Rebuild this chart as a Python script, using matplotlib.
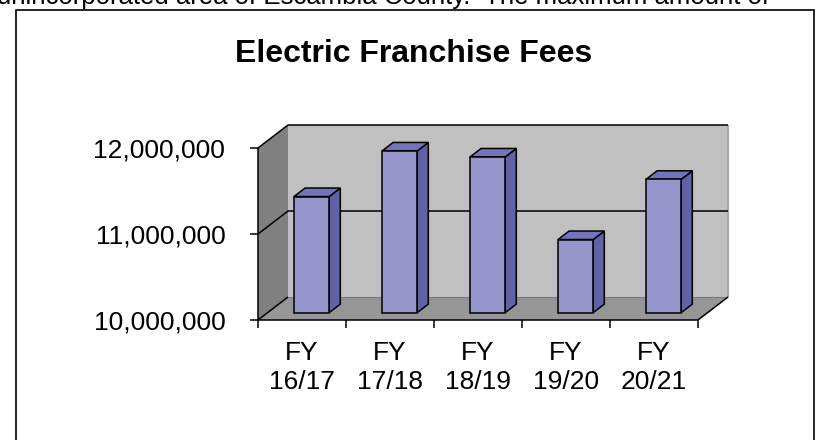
import matplotlib
matplotlib.use("Agg")
import matplotlib.pyplot as plt
from matplotlib.patches import Polygon, Rectangle
from matplotlib.ticker import FuncFormatter

plt.rcParams['font.family'] = ['Liberation Sans', 'DejaVu Sans']

categories = ["FY\n16/17", "FY\n17/18", "FY\n18/19", "FY\n19/20", "FY\n20/21"]
fees = [11350000, 11880000, 11810000, 10850000, 11550000]
y_ticks = [10000000, 11000000, 12000000]
title = "Electric Franchise Fees"
page_text = "unincorporated area of Escambia County.  The maximum amount of"

y_min, y_max = 10000000, 12000000
depth_x = 30 / 88.0          # how far the back wall sits to the right (category widths)
depth_y = 23 / 86.0 * 1e6    # how far the back wall sits up (value units)
bar_front, bar_back = 0.32, 0.69   # bar depth as fraction of the floor
bar_w = 0.4

wall_back = '#c0c0c0'
wall_side = '#808080'
floor_col = '#969696'
bar_face = '#9595cb'
bar_side = '#6161a6'
bar_top = '#7474bc'
lw = 1.1

fig = plt.figure(figsize=(8.21, 4.40), dpi=100)
ax = fig.add_axes([258 / 821, 120 / 440, 440 / 821, 172 / 440])
ax.patch.set_visible(False)
n = len(categories)
ax.set_xlim(0, n)
ax.set_ylim(y_min, y_max)


def shift(x, y, d):
    return (x + d * depth_x, y + d * depth_y)


def poly(pts, fc, z, ec='none'):
    ax.add_patch(Polygon(pts, closed=True, fc=fc, ec=ec, lw=lw,
                         joinstyle='miter', clip_on=False, zorder=z))


def line(pts, color='black', z=3, width=lw):
    xs, ys = zip(*pts)
    ax.plot(xs, ys, color=color, lw=width, clip_on=False, zorder=z,
            solid_capstyle='butt')


# walls and floor
poly([shift(0, y_min, 1), shift(n, y_min, 1), shift(n, y_max, 1), shift(0, y_max, 1)], wall_back, 1)
poly([(0, y_min), shift(0, y_min, 1), shift(0, y_max, 1), (0, y_max)], wall_side, 1)
poly([(0, y_min), (n, y_min), shift(n, y_min, 1), shift(0, y_min, 1)], floor_col, 2)
line([shift(n, y_min, 1), shift(n, y_max, 1)], color='#a8a8a8', z=2, width=1.5)
line([shift(0, y_min, 1), shift(n, y_min, 1)], color='#7a7a7a', z=2, width=0.8)
line([(n, y_min), shift(n, y_min, 1)])

# gridlines across side and back wall
for t in y_ticks:
    if t == y_min:
        line([(0, t), shift(0, t, 1)])
    else:
        line([(0, t), shift(0, t, 1), shift(n, t, 1)])

# 3d bars
for i, v in enumerate(fees):
    x0 = i + 0.5 - bar_w / 2
    x1 = x0 + bar_w
    poly([shift(x1, y_min, bar_front), shift(x1, y_min, bar_back),
          shift(x1, v, bar_back), shift(x1, v, bar_front)], bar_side, 5, 'black')
    poly([shift(x0, v, bar_front), shift(x1, v, bar_front),
          shift(x1, v, bar_back), shift(x0, v, bar_back)], bar_top, 5, 'black')
    poly([shift(x0, y_min, bar_front), shift(x1, y_min, bar_front),
          shift(x1, v, bar_front), shift(x0, v, bar_front)], bar_face, 6, 'black')

# axes
for s in ['top', 'right']:
    ax.spines[s].set_visible(False)
for s in ['left', 'bottom']:
    ax.spines[s].set_linewidth(lw)
    ax.spines[s].set_zorder(7)

ax.set_yticks(y_ticks)
ax.yaxis.set_major_formatter(FuncFormatter(lambda v, p: f"{v:,.0f}"))
ax.tick_params(axis='y', length=5.5, width=lw, pad=18, labelsize=19)

ax.set_xticks(range(n + 1))
ax.set_xticklabels([])
ax.set_xticks([i + 0.5 for i in range(n)], minor=True)
ax.set_xticklabels(categories, minor=True)
ax.tick_params(axis='x', which='major', length=5.5, width=lw)
ax.tick_params(axis='x', which='minor', length=0, pad=15, labelsize=19)
for lab in ax.get_xticklabels(minor=True):
    lab.set_linespacing(1.25)

fig.text(414 / 821, 1 - 62 / 440, title, ha='center', va='baseline',
         fontsize=23, fontweight='bold')
fig.text(-0.004, 1 - 4 / 440, page_text, ha='left', va='baseline', fontsize=18.5)

fig.add_artist(Rectangle((16 / 821, -0.1), (814 - 16) / 821, 1 - 10 / 440 + 0.1,
                         transform=fig.transFigure, fill=False, ec='black', lw=1.2))

fig.savefig("out.png", dpi=100)
